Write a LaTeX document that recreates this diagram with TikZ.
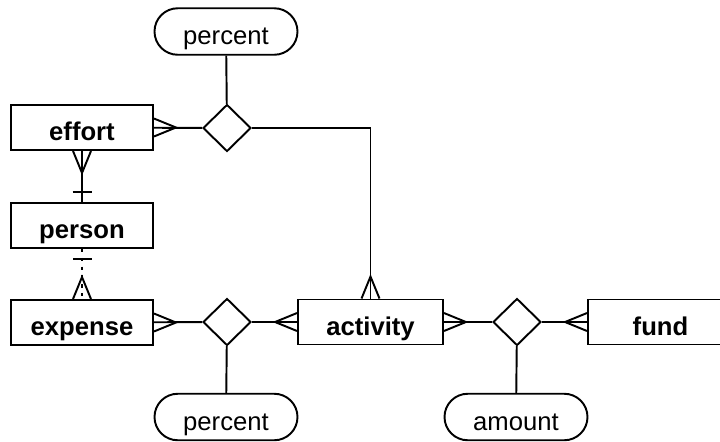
\documentclass[tikz,border=0pt]{standalone}
\usepackage{fontspec}
\setmainfont{Liberation Sans}
\usetikzlibrary{shapes.geometric,shapes.misc}

% crow's foot at a box side: #1 = anchor, #2 = angle pointing away from the box
\newcommand{\crowsfoot}[2]{\draw[shift={(#1)}, rotate=#2] (0,0.18) -- (0.44,0) -- (0,-0.18);}
% single bar across a connector
\newcommand{\onebar}[2]{\draw[shift={(#1)}, rotate=#2] (0.2,0.19) -- (0.2,-0.19);}

\begin{document}
\begin{tikzpicture}[line width=1.1pt, font=\fontsize{14.6}{17}\selectfont,
  every node/.style={text height=0.52cm, text depth=0cm},
  entity/.style={draw, minimum width=2.9cm, minimum height=0.9cm, inner sep=0pt, font=\fontsize{14.6}{17}\selectfont\bfseries},
  relation/.style={draw, diamond, minimum width=0.96cm, minimum height=0.94cm, inner sep=0pt, text height=0pt},
  attrib/.style={draw, rounded rectangle, minimum width=2.86cm, minimum height=0.93cm, inner sep=0pt}]
\clip (0,0) rectangle (14.4,-8.82);
% entities
\node[entity, minimum width=2.84cm] (effort) at (1.64,-2.55) {effort};
\node[entity, minimum width=2.84cm] (person) at (1.64,-4.51) {person};
\node[entity, minimum width=2.84cm] (expense) at (1.64,-6.45) {expense};
\node[entity] (activity) at (7.41,-6.44) {activity};
\node[entity] (fund) at (13.21,-6.44) {fund};
% relationships
\node[relation] (effrel) at (4.54,-2.56) {};
\node[relation] (exprel) at (4.54,-6.44) {};
\node[relation] (fundrel) at (10.34,-6.44) {};
% attributes
\node[attrib] (effpct) at (4.52,-0.63) {percent};
\node[attrib] (exppct) at (4.52,-8.34) {percent};
\node[attrib] (amount) at (10.32,-8.34) {amount};
% links
\draw (effpct) -- (effrel);
\draw (exprel) -- (exppct);
\draw (fundrel) -- (amount);
\draw (effort) -- (effrel);
\draw (effrel.east) -| (activity.north);
\draw (expense) -- (exprel);
\draw (exprel) -- (activity);
\draw (activity) -- (fundrel);
\draw (fundrel) -- (fund);
\draw (effort) -- (person);
\draw[dash pattern=on 2pt off 3pt] (person) -- (expense);
% cardinalities
\crowsfoot{effort.east}{0}
\crowsfoot{effort.south}{-90}
\onebar{person.north}{90}
\onebar{person.south}{-90}
\crowsfoot{expense.north}{90}
\crowsfoot{expense.east}{0}
\crowsfoot{activity.north}{90}
\crowsfoot{activity.west}{180}
\crowsfoot{activity.east}{0}
\crowsfoot{fund.west}{180}
\end{tikzpicture}
\end{document}
